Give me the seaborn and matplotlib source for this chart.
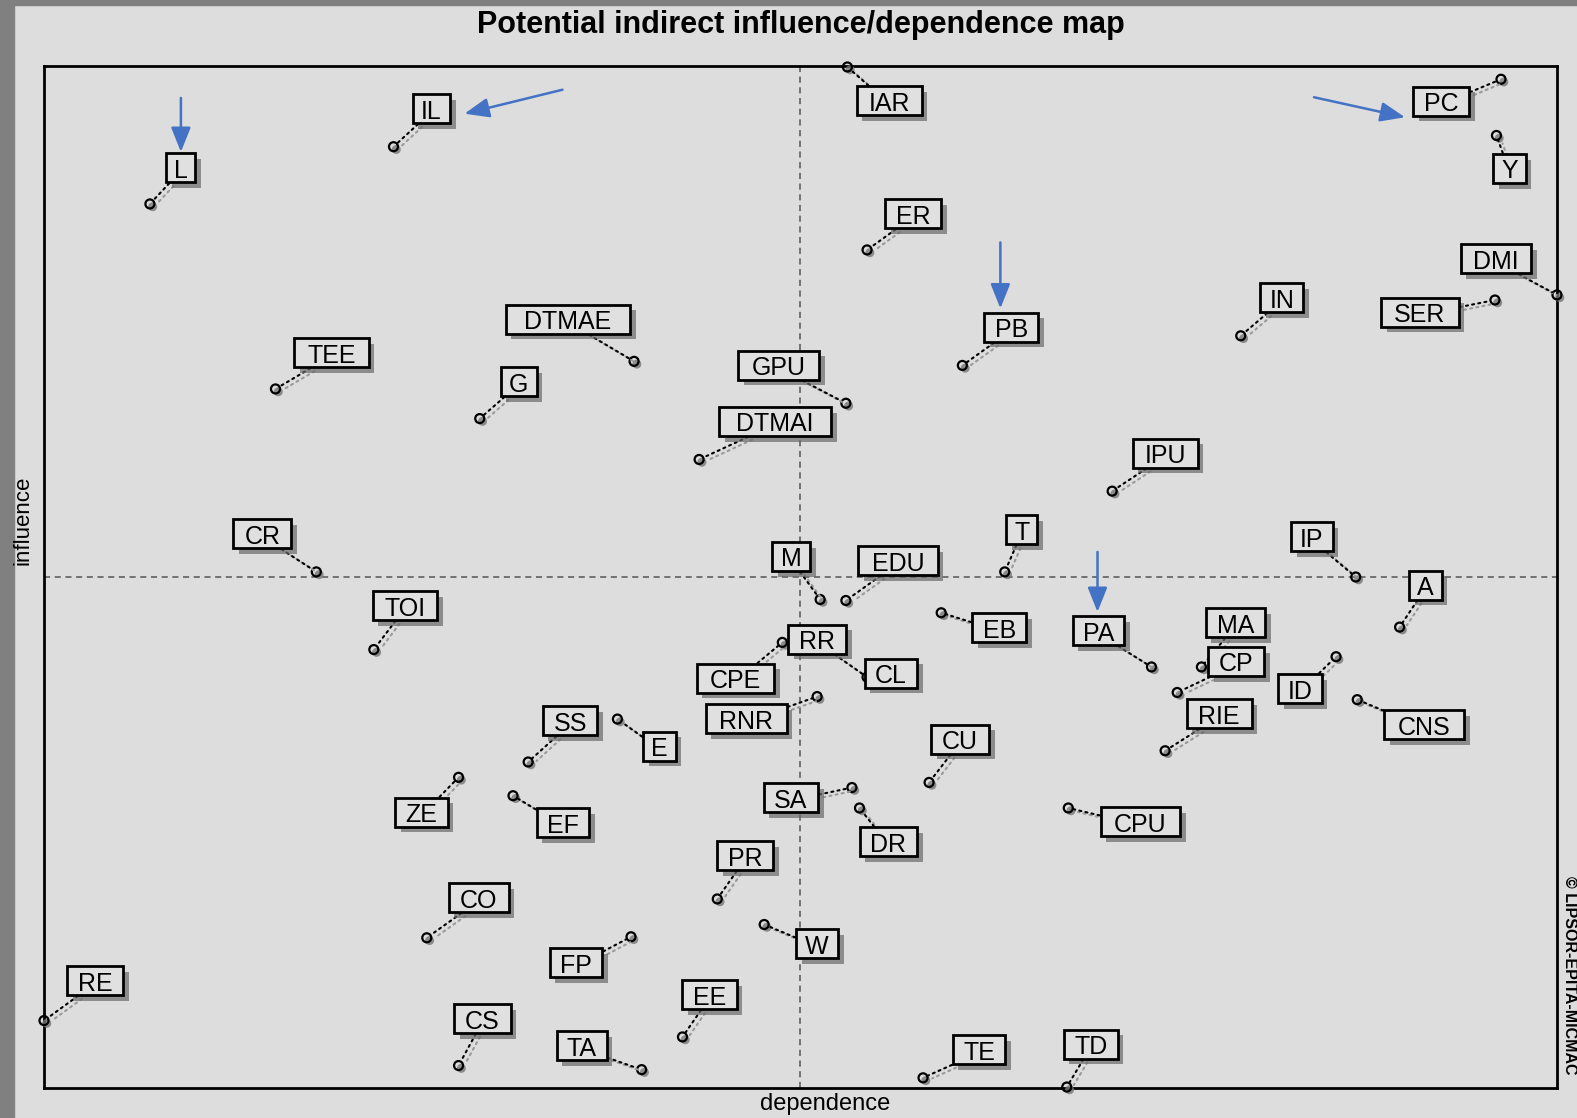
import matplotlib
matplotlib.use('Agg')
import matplotlib.pyplot as plt
import matplotlib.patheffects as pe
from matplotlib.path import Path
from matplotlib.patches import Rectangle
from matplotlib.transforms import offset_copy
import pandas as pd
import seaborn as sns

# variables of the MICMAC map
variables = ['L', 'IL', 'IAR', 'PC', 'Y', 'ER', 'DMI', 'IN', 'SER', 'PB',
             'DTMAE', 'TEE', 'G', 'GPU', 'DTMAI', 'IPU', 'CR', 'T', 'IP', 'M',
             'EDU', 'A', 'TOI', 'EB', 'PA', 'MA', 'CP', 'RIE', 'ID', 'CNS',
             'CPE', 'RR', 'CL', 'RNR', 'SA', 'DR', 'CU', 'SS', 'E', 'ZE',
             'EF', 'CPU', 'PR', 'W', 'EE', 'TE', 'TD', 'TA', 'FP', 'CO',
             'RE', 'CS']
dependence = [7.0, 23.1, 53.1, 96.3, 96.0, 54.4, 100.0, 79.1, 95.9, 60.7,
              39.0, 15.3, 28.8, 53.0, 43.3, 70.6, 18.0, 63.5, 86.7, 51.3,
              53.0, 89.6, 21.8, 59.3, 73.2, 76.5, 74.9, 74.1, 85.4, 86.8,
              48.8, 54.4, 54.6, 51.1, 53.4, 53.9, 58.5, 32.0, 37.9, 27.4,
              31.0, 67.7, 44.5, 47.6, 42.2, 58.1, 67.6, 39.5, 38.8, 25.3,
              0.0, 27.4]
influence = [86.5, 92.1, 99.9, 98.7, 93.2, 82.0, 77.6, 73.6, 77.1, 70.7,
             71.1, 68.4, 65.5, 67.0, 61.5, 58.4, 50.5, 50.5, 50.0, 47.8,
             47.7, 45.1, 42.9, 46.5, 41.2, 41.2, 38.7, 33.0, 42.2, 38.0,
             43.6, 40.2, 40.0, 38.3, 29.4, 27.4, 29.9, 31.9, 36.1, 30.4,
             28.6, 27.4, 18.5, 16.0, 5.0, 1.0, 0.1, 1.8, 14.8, 14.7,
             6.6, 2.2]

dep_mean = 50.0
inf_mean = 50.0

# where each label box sits relative to its point (pixels, y up)
label_offsets = {
    'L': (31, 33), 'IL': (38, 35), 'IAR': (42, -37), 'PC': (-60, -25),
    'Y': (13, -36), 'ER': (46, 33), 'DMI': (-61, 33), 'IN': (41, 35),
    'SER': (-75, -15), 'PB': (49, 35), 'DTMAE': (-66, 39), 'TEE': (56, 33),
    'G': (39, 34), 'GPU': (-67, 35), 'DTMAI': (76, 35), 'IPU': (53, 35),
    'CR': (-54, 35), 'T': (17, 39), 'IP': (-44, 37), 'M': (-29, 40),
    'EDU': (52, 37), 'A': (26, 39), 'TOI': (31, 41), 'EB': (58, -18),
    'PA': (-53, 33), 'MA': (34, 41), 'CP': (59, 28), 'RIE': (54, 34),
    'ID': (-36, -35), 'CNS': (67, -28), 'CPE': (-47, -39), 'RR': (-50, 35),
    'CL': (21, 3), 'RNR': (-71, -25), 'SA': (-61, -13), 'DR': (29, -37),
    'CU': (31, 40), 'SS': (42, 38), 'E': (42, -30), 'ZE': (-37, -38),
    'EF': (50, -30), 'CPU': (72, -17), 'PR': (28, 40), 'W': (53, -22),
    'EE': (27, 39), 'TE': (56, 25), 'TD': (24, 40), 'TA': (-60, 21),
    'FP': (-55, -29), 'CO': (52, 37), 'RE': (51, 37), 'CS': (24, 44),
}

# highlighted variables: blue arrows (tail / head offsets in pixels)
arrow_targets = ['L', 'IL', 'PC', 'PB', 'PA']
arrow_tails = [(31, 106), (169, 57), (-187, -18), (38, 123), (-54, 115)]
arrow_heads = [(31, 52), (71, 33), (-96, -38), (38, 57), (-54, 55)]

df = pd.DataFrame({'variable': variables, 'dependence': dependence,
                   'influence': influence})

bg = '#dddddd'
sns.set_style('white')
plt.rcParams['font.family'] = ['Liberation Sans', 'DejaVu Sans']
plt.rcParams['text.color'] = 'black'

fig = plt.figure(figsize=(15.77, 11.18), dpi=100, facecolor=bg)
ax = fig.add_axes([0.0279, 0.0268, 0.9594, 0.9142], facecolor=bg)

# dark frame of the screenshot
fig.patches.append(Rectangle((0, 0), 0.0088, 1, transform=fig.transFigure,
                             color='#808080', zorder=0))
fig.patches.append(Rectangle((0, 0.9952), 1, 0.0048, transform=fig.transFigure,
                             color='#808080', zorder=0))

ax.axvline(dep_mean, color='#555555', lw=1.1, ls=(0, (4, 3)), zorder=1)
ax.axhline(inf_mean, color='#555555', lw=1.1, ls=(0, (4, 3)), zorder=1)

sns.scatterplot(data=df, x='dependence', y='influence', s=42,
                facecolor='none', edgecolor='black', linewidth=1.6,
                ax=ax, zorder=4, clip_on=False, legend=False)
ax.collections[-1].set_path_effects([
    pe.SimplePatchShadow(offset=(2, -2), shadow_rgbFace='#777777', alpha=0.8),
    pe.Normal()])


def wide_box(x0, y0, width, height, mutation_size):
    # wider box (the original labels are stretched sideways), caps centred
    px = 0.15 * width + 0.22 * mutation_size
    bx0, bx1 = x0 - px, x0 + width + px
    by0 = y0 + 0.02 * mutation_size
    by1 = y0 + height + 0.22 * mutation_size
    return Path([(bx0, by0), (bx1, by0), (bx1, by1), (bx0, by1), (bx0, by0)],
                closed=True)


for name, x, y in zip(variables, dependence, influence):
    ann = ax.annotate(
        name, xy=(x, y), xytext=label_offsets[name],
        textcoords='offset pixels', ha='center', va='center',
        fontsize=18, color='black', zorder=5,
        bbox=dict(boxstyle=wide_box, fc='#e0e0e0', ec='black', lw=2),
        arrowprops=dict(arrowstyle='-', color='black', lw=1.5,
                        ls=(0, (1, 2)), shrinkA=0, shrinkB=4),
        annotation_clip=False)
    ann.get_bbox_patch().set_path_effects([
        pe.SimplePatchShadow(offset=(4, -4), shadow_rgbFace='#6a6a6a',
                             alpha=0.7),
        pe.Normal()])
    ann.arrow_patch.set_path_effects([
        pe.SimpleLineShadow(offset=(3, -2), shadow_color='#9a9a9a', alpha=1),
        pe.Normal()])

for name, tail, head in zip(arrow_targets, arrow_tails, arrow_heads):
    i = variables.index(name)
    pt = (dependence[i], influence[i])
    ax.annotate('', xy=pt, xycoords=offset_copy(ax.transData, fig=fig,
                                                x=head[0], y=head[1],
                                                units='dots'),
                xytext=pt, textcoords=offset_copy(ax.transData, fig=fig,
                                                  x=tail[0], y=tail[1],
                                                  units='dots'),
                arrowprops=dict(arrowstyle='-|>,head_length=0.75,head_width=0.3',
                                color='#4472c4', lw=1.8, mutation_scale=20,
                                shrinkA=0, shrinkB=0),
                zorder=6, annotation_clip=False)

ax.set_xlim(0, 100)
ax.set_ylim(0, 100)
ax.set_xticks([])
ax.set_yticks([])
ax.set_xlabel('')
ax.set_ylabel('')
for sp in ax.spines.values():
    sp.set_linewidth(2)
    sp.set_color('black')

fig.text(0.508, 0.978, 'Potential indirect influence/dependence map',
         ha='center', va='center', fontsize=22, fontweight='bold')
fig.text(0.523, 0.0125, 'dependence', ha='center', va='center', fontsize=17)
fig.text(0.0145, 0.535, 'influence', ha='center', va='center', fontsize=16,
         rotation=90)
fig.text(0.9955, 0.128, '\u00a9 LIPSOR-EPITA-MICMAC', ha='center', va='center',
         fontsize=11.5, rotation=270, fontweight='bold')

fig.savefig('out.png', dpi=100, facecolor=bg)
